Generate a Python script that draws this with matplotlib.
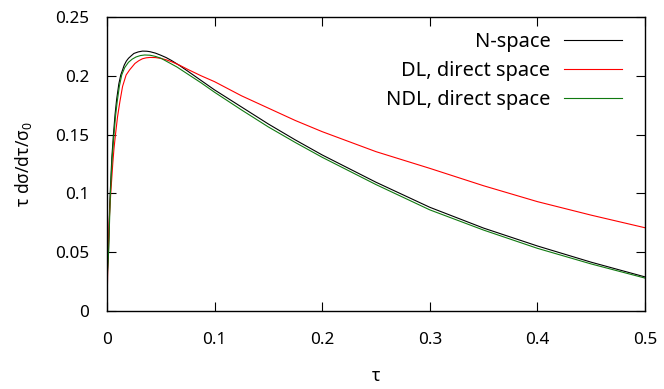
import matplotlib
matplotlib.use('Agg')
import matplotlib.pyplot as plt

# 字体设置
plt.rcParams['font.family'] = ['Noto Sans', 'DejaVu Sans']
plt.rcParams['mathtext.fontset'] = 'custom'
plt.rcParams['mathtext.rm'] = 'Noto Sans'
plt.rcParams['mathtext.it'] = 'Noto Sans'

# N-space
tau_n = [0, 0.0005, 0.0014, 0.0025, 0.003, 0.0045, 0.006, 0.0075, 0.009, 0.011,
         0.0128, 0.0145, 0.016, 0.018, 0.020, 0.0225, 0.025, 0.029, 0.033, 0.037,
         0.04, 0.045, 0.05, 0.055, 0.06, 0.0675, 0.075, 0.0875, 0.1, 0.125,
         0.15, 0.175, 0.2, 0.25, 0.3, 0.35, 0.4, 0.45, 0.5]
val_n = [0.0, 0.035, 0.05, 0.09, 0.10, 0.13, 0.15, 0.167, 0.18, 0.193,
         0.2007, 0.205, 0.209, 0.2125, 0.2149, 0.217, 0.219, 0.2203, 0.221, 0.2209,
         0.2205, 0.2193, 0.2175, 0.2155, 0.213, 0.2087, 0.204, 0.196, 0.188, 0.1735,
         0.159, 0.1455, 0.1327, 0.1095, 0.0882, 0.0705, 0.0553, 0.0415, 0.029]

# DL, direct space
tau_dl = [0, 0.0008, 0.002, 0.0035, 0.0054, 0.0065, 0.0079, 0.0098, 0.012, 0.0145,
          0.0178, 0.021, 0.026, 0.0295, 0.033, 0.0365, 0.04, 0.045, 0.05, 0.055,
          0.06, 0.0675, 0.075, 0.0875, 0.1, 0.125, 0.15, 0.175, 0.2, 0.25,
          0.3, 0.35, 0.4, 0.45, 0.5]
val_dl = [0.0, 0.04, 0.075, 0.10, 0.1256, 0.138, 0.150, 0.165, 0.178, 0.191,
          0.2007, 0.205, 0.2105, 0.2128, 0.2145, 0.2153, 0.2156, 0.2155, 0.2148, 0.2136,
          0.212, 0.209, 0.2055, 0.200, 0.195, 0.183, 0.1725, 0.162, 0.1525, 0.1355,
          0.1213, 0.1065, 0.093, 0.0815, 0.0708]

# NDL, direct space
tau_ndl = [0, 0.0005, 0.0015, 0.0032, 0.0048, 0.0065, 0.008, 0.0095, 0.0115, 0.0137,
           0.0165, 0.02, 0.0235, 0.027, 0.031, 0.035, 0.04, 0.045, 0.05, 0.055,
           0.065, 0.075, 0.0875, 0.1, 0.125, 0.15, 0.175, 0.2, 0.25, 0.3,
           0.35, 0.4, 0.45, 0.5]
val_ndl = [0.0, 0.033, 0.05, 0.10, 0.13, 0.15, 0.166, 0.178, 0.191, 0.2007,
           0.207, 0.2115, 0.2142, 0.216, 0.2172, 0.2177, 0.2175, 0.2165, 0.215, 0.2125,
           0.2075, 0.2015, 0.194, 0.186, 0.171, 0.1565, 0.1433, 0.1307, 0.1075, 0.086,
           0.0688, 0.0533, 0.040, 0.028]

x_ticks = [0, 0.1, 0.2, 0.3, 0.4, 0.5]
x_tick_labels = ['0', '0.1', '0.2', '0.3', '0.4', '0.5']
y_ticks = [0, 0.05, 0.1, 0.15, 0.2, 0.25]
y_tick_labels = ['0', '0.05', '0.1', '0.15', '0.2', '0.25']

fig = plt.figure(figsize=(6.64, 3.89), dpi=100)
ax = fig.add_axes([0.1611, 0.2005, 0.8103, 0.7558])

ax.plot(tau_n, val_n, color='black', lw=0.8, label='N-space')
ax.plot(tau_dl, val_dl, color='#ff0000', lw=0.8, label='DL, direct space')
ax.plot(tau_ndl, val_ndl, color='#107a10', lw=0.8, label='NDL, direct space')

ax.set_xlim(0, 0.5)
ax.set_ylim(0, 0.25)
ax.set_xticks(x_ticks)
ax.set_xticklabels(x_tick_labels)
ax.set_yticks(y_ticks)
ax.set_yticklabels(y_tick_labels)
ax.tick_params(axis='both', direction='in', top=True, right=True,
               length=6.5, width=0.8, labelsize=12.3)
ax.tick_params(axis='x', pad=15)
ax.tick_params(axis='y', pad=13)
for s in ax.spines.values():
    s.set_linewidth(1.0)

ax.set_xlabel('τ', fontsize=12.5, labelpad=14)
ax.set_ylabel('τ dσ/dτ/σ$_0$', fontsize=12.5, labelpad=15)

ax.legend(loc='upper right', bbox_to_anchor=(0.972, 0.977), frameon=False,
          markerfirst=False, fontsize=14.4, handlelength=2.88,
          handletextpad=0.7, labelspacing=0.46, borderaxespad=0.0)

plt.savefig('out.png', dpi=100)
plt.close()
